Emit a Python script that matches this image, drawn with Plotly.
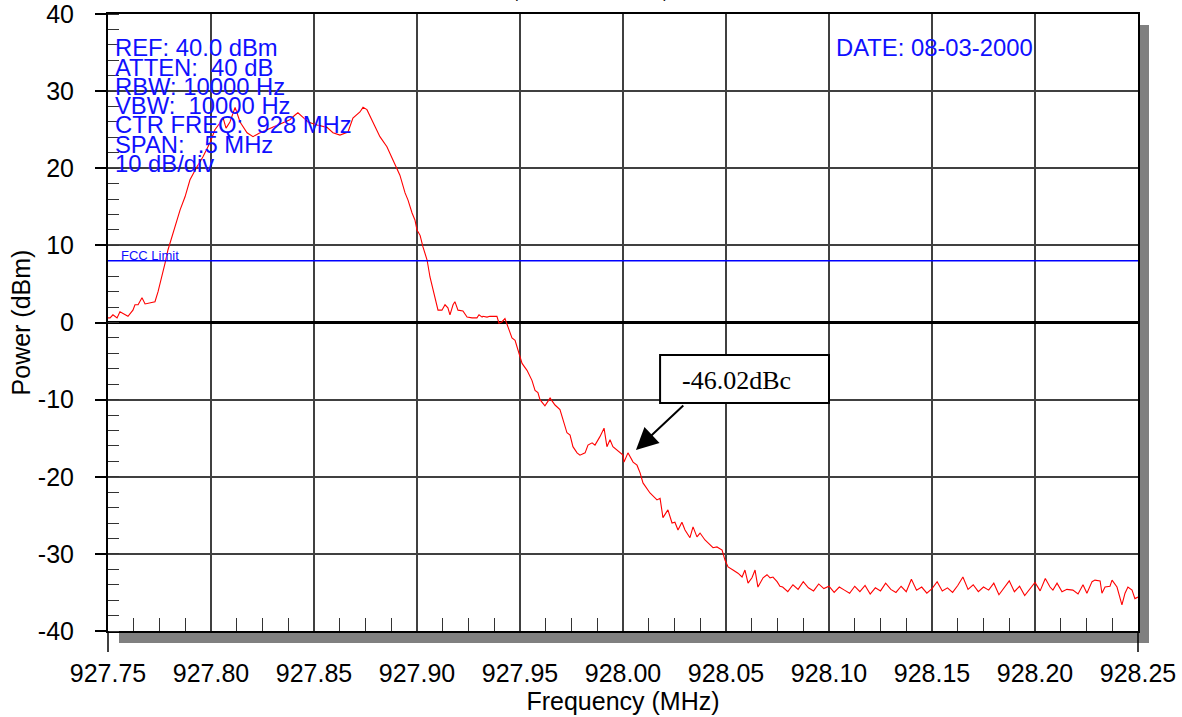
import plotly.graph_objects as go

# ---------------- data ----------------
freq_mhz = [
    927.7500, 927.7510, 927.7524, 927.7544, 927.7558, 927.7583, 927.7597, 927.7621, 927.7631, 927.7646,
    927.7665, 927.7680, 927.7694, 927.7728, 927.7743, 927.7762, 927.7777, 927.7791, 927.7811, 927.7825,
    927.7850, 927.7874, 927.7898, 927.7932, 927.7961, 927.7995, 927.8019, 927.8044, 927.8058, 927.8073,
    927.8092, 927.8117, 927.8141, 927.8175, 927.8204, 927.8238, 927.8272, 927.8301, 927.8345, 927.8383,
    927.8408, 927.8422, 927.8447, 927.8471, 927.8515, 927.8563, 927.8592, 927.8626, 927.8665, 927.8689,
    927.8723, 927.8738, 927.8757, 927.8786, 927.8820, 927.8854, 927.8883, 927.8917, 927.8942, 927.8956,
    927.8976, 927.8990, 927.9000, 927.9015, 927.9029, 927.9049, 927.9063, 927.9078, 927.9097, 927.9102,
    927.9121, 927.9136, 927.9150, 927.9160, 927.9175, 927.9184, 927.9199, 927.9223, 927.9243, 927.9267,
    927.9291, 927.9301, 927.9316, 927.9320, 927.9340, 927.9354, 927.9388, 927.9398, 927.9413, 927.9427,
    927.9442, 927.9461, 927.9476, 927.9490, 927.9510, 927.9534, 927.9558, 927.9573, 927.9587, 927.9597,
    927.9621, 927.9646, 927.9670, 927.9694, 927.9709, 927.9728, 927.9743, 927.9757, 927.9777, 927.9791,
    927.9816, 927.9830, 927.9850, 927.9864, 927.9888, 927.9908, 927.9922, 927.9937, 927.9951, 927.9985,
    928.0000, 928.0005, 928.0024, 928.0049, 928.0068, 928.0083, 928.0097, 928.0131, 928.0165, 928.0180,
    928.0194, 928.0218, 928.0238, 928.0252, 928.0267, 928.0286, 928.0301, 928.0325, 928.0340, 928.0359,
    928.0374, 928.0398, 928.0422, 928.0437, 928.0456, 928.0481, 928.0495, 928.0510, 928.0534, 928.0558,
    928.0578, 928.0592, 928.0607, 928.0626, 928.0641, 928.0655, 928.0680, 928.0699, 928.0714, 928.0728,
    928.0748, 928.0762,
    928.0775, 928.0800, 928.0825, 928.0850, 928.0875, 928.0900, 928.0925, 928.0950, 928.0975, 928.1000,
    928.1025, 928.1050, 928.1075, 928.1100, 928.1125, 928.1150, 928.1175, 928.1200, 928.1225, 928.1250,
    928.1275, 928.1300, 928.1325, 928.1350, 928.1375, 928.1400, 928.1425, 928.1450, 928.1475, 928.1500,
    928.1525, 928.1550, 928.1575, 928.1600, 928.1625, 928.1650, 928.1675, 928.1700, 928.1725, 928.1750,
    928.1775, 928.1800, 928.1825, 928.1850, 928.1875, 928.1900, 928.1925, 928.1950, 928.1975, 928.2000,
    928.2025, 928.2050,
    928.2073, 928.2087, 928.2107, 928.2131, 928.2155, 928.2184, 928.2209, 928.2233, 928.2252, 928.2277,
    928.2291, 928.2316, 928.2325, 928.2340, 928.2364, 928.2374, 928.2398, 928.2422, 928.2437, 928.2451,
    928.2471, 928.2485, 928.2500,
]
power_dbm = [
    0.6, 0.6, 1.0, 0.6, 1.4, 1.0, 0.8, 1.6, 2.3, 2.3,
    3.2, 2.4, 2.5, 2.7, 4.0, 5.9, 7.7, 9.4, 11.1, 12.4,
    14.6, 16.3, 18.5, 20.2, 21.5, 23.3, 25.0, 25.9, 26.6, 25.2,
    26.0, 27.9, 26.0, 24.6, 24.1, 24.6, 25.0, 25.3, 25.9, 26.3,
    26.9, 27.2, 26.6, 26.0, 25.6, 25.3, 24.6, 24.3, 24.7, 26.5,
    27.3, 27.9, 27.6, 25.9, 24.1, 22.8, 21.1, 19.1, 16.8, 15.9,
    14.2, 13.3, 12.0, 11.3, 9.8, 8.1, 5.9, 4.2, 2.0, 1.6,
    1.6, 2.3, 1.9, 1.0, 2.3, 2.7, 1.6, 1.5, 0.7, 0.6,
    0.6, 1.0, 0.7, 0.8, 0.7, 0.8, 0.8, -0.1, 0.1, 0.5,
    -0.6, -2.0, -2.3, -3.6, -5.3, -6.2, -7.5, -8.8, -9.1, -10.0,
    -10.8, -9.8, -10.7, -11.3, -12.6, -14.3, -14.6, -16.1, -16.9, -17.2,
    -16.9, -15.9, -15.6, -15.9, -14.8, -13.7, -16.1, -15.2, -16.1, -16.8,
    -17.2, -18.1, -16.9, -18.1, -18.5, -19.5, -20.8, -22.1, -23.0, -22.8,
    -25.3, -24.3, -26.0, -25.9, -26.9, -25.9, -26.9, -27.9, -26.5, -27.8,
    -27.3, -28.2, -28.8, -29.2, -29.1, -29.5, -30.8, -31.7, -32.1, -32.5,
    -33.0, -32.1, -33.8, -33.1, -32.1, -34.3, -33.1, -32.7, -33.1, -33.0,
    -33.6, -34.2,
    -34.3, -34.9, -34.0, -34.6, -33.6, -34.4, -34.8, -33.9, -34.5, -34.2,
    -35.0, -34.3, -34.7, -35.1, -34.2, -34.9, -34.1, -35.2, -34.4, -34.8,
    -33.8, -34.6, -35.0, -34.2, -34.9, -33.3, -34.7, -34.3, -35.1, -34.5,
    -33.6, -34.8, -34.4, -35.0, -34.1, -33.0, -34.6, -34.0, -34.9, -34.3,
    -34.7, -33.8, -35.3, -34.4, -33.5, -34.9, -34.2, -35.4, -34.6, -33.7,
    -34.8, -33.2,
    -34.3, -34.7, -33.8, -34.9, -34.6, -34.7, -35.2, -34.0, -35.1, -33.6,
    -33.4, -33.5, -35.1, -34.3, -34.2, -33.4, -34.3, -36.6, -35.1, -34.3,
    -34.7, -35.8, -35.6,
]

fcc_limit_dbm = 8
x_range = [927.75, 928.25]
y_range = [-40, 40]
x_tick_step = 0.05
y_tick_vals = [-40, -30, -20, -10, 0, 10, 20, 30, 40]
y_tick_labels = ["-40", "-30", "-20", "-10", "0", "10", "20", "30", "40"]

info_lines = [
    "REF: 40.0 dBm",
    "ATTEN:  40 dB",
    "RBW: 10000 Hz",
    "VBW:  10000 Hz",
    "CTR FREQ:  928 MHz",
    "SPAN:  .5 MHz",
    "10 dB/div",
]
date_text = "DATE: 08-03-2000"
title_text = "Modulation: FSK, Pwr: 30 dBm, Channel: 928"
callout_text = "-46.02dBc"

# ---------------- figure ----------------
SANS = "Liberation Sans, Arial, sans-serif"
SERIF = "Liberation Serif, Times New Roman, serif"
W, H = 1182, 717
ML, MR, MT, MB = 108, 44, 14, 86
PW, PH = W - ML - MR, H - MT - MB


def px_x(px):
    return (px - ML) / PW


def px_y(py):
    return (H - MB - py) / PH


fig = go.Figure()

fig.add_trace(go.Scatter(
    x=freq_mhz, y=power_dbm, mode="lines",
    line=dict(color="#ff0000", width=1.1),
    showlegend=False, hoverinfo="x+y",
))

# FCC limit line
fig.add_shape(type="line", xref="paper", x0=0, x1=1, yref="y", y0=fcc_limit_dbm, y1=fcc_limit_dbm,
              line=dict(color="#0000ff", width=1.5), layer="above")

# drop shadow (right and bottom strips)
fig.add_shape(type="rect", xref="paper", yref="paper",
              x0=1.0015, x1=px_x(1149), y0=px_y(643), y1=px_y(25),
              fillcolor="#808080", line=dict(width=0), layer="below")
fig.add_shape(type="rect", xref="paper", yref="paper",
              x0=px_x(119), x1=px_x(1149), y0=px_y(643), y1=-0.002,
              fillcolor="#808080", line=dict(width=0), layer="below")
# spine extensions below the axis
for xx in (0, 1):
    fig.add_shape(type="line", xref="paper", yref="paper", x0=xx, x1=xx,
                  y0=0, y1=px_y(652), line=dict(color="#000000", width=1.5))

# callout box + text + arrow
fig.add_shape(type="rect", xref="x", yref="y",
              x0=928.0180, x1=928.1000, y0=-10.44, y1=-4.21,
              fillcolor="#ffffff", line=dict(color="#000000", width=2), layer="above")
fig.add_annotation(x=928.0549, y=-7.46, xref="x", yref="y", text=callout_text,
                   showarrow=False, font=dict(family=SERIF, size=26, color="#000000"))
fig.add_annotation(x=928.0063, y=-16.53, xref="x", yref="y", ax=928.030, ay=-10.57,
                   axref="x", ayref="y", text="", showarrow=True,
                   arrowhead=2, arrowsize=2.2, arrowwidth=2, arrowcolor="#000000")

# instrument settings text
for i, line in enumerate(info_lines):
    fig.add_annotation(x=px_x(113.5), y=px_y(48 + 19.2 * i), xref="paper", yref="paper",
                       xanchor="left", yanchor="middle", text=line, showarrow=False,
                       font=dict(family=SANS, size=23.8, color="#1010ff"), borderpad=0)
fig.add_annotation(x=px_x(835), y=px_y(48), xref="paper", yref="paper",
                   xanchor="left", yanchor="middle", text=date_text, showarrow=False,
                   font=dict(family=SANS, size=23.8, color="#1010ff"), borderpad=0)
fig.add_annotation(x=px_x(120), y=px_y(255), xref="paper", yref="paper",
                   xanchor="left", yanchor="middle", text="FCC Limit", showarrow=False,
                   font=dict(family=SANS, size=13, color="#1010ff"), borderpad=0)
# title (mostly cut off by the top of the page)
fig.add_annotation(x=px_x(577), y=px_y(4), xref="paper", yref="paper",
                   xanchor="center", yanchor="bottom", text=title_text, showarrow=False,
                   font=dict(family=SANS, size=23.5, color="#000000"), borderpad=0)

fig.update_xaxes(
    range=x_range, tick0=x_range[0], dtick=x_tick_step, tickformat=".2f",
    showgrid=True, gridcolor="#404040", gridwidth=1.5,
    showline=True, linecolor="#000000", linewidth=2, mirror=True,
    ticks="", ticklabelstandoff=19, automargin=False, ticklabeloverflow="allow",
    minor=dict(ticks="inside", dtick=x_tick_step / 4, ticklen=13, tickcolor="#333333",
               tickwidth=1, showgrid=False),
    tickfont=dict(family=SANS, size=25, color="#000000"),
    title=dict(text="Frequency (MHz)", font=dict(family=SANS, size=25, color="#000000"), standoff=4),
    zeroline=False,
)
fig.update_yaxes(
    range=y_range, tickmode="array", tickvals=y_tick_vals, ticktext=y_tick_labels,
    automargin=False, ticklabeloverflow="allow",
    showgrid=True, gridcolor="#404040", gridwidth=1.5,
    showline=True, linecolor="#000000", linewidth=2, mirror=True,
    ticks="outside", ticklen=11, tickcolor="#000000", tickwidth=1.5, ticklabelstandoff=16,
    minor=dict(ticks="inside", dtick=2, ticklen=11, tickcolor="#333333", tickwidth=1, showgrid=False),
    zeroline=True, zerolinecolor="#000000", zerolinewidth=3,
    tickfont=dict(family=SANS, size=25, color="#000000"),
    title=dict(text="Power (dBm)", font=dict(family=SANS, size=25, color="#000000"), standoff=0),
)

fig.update_layout(
    width=W, height=H,
    margin=dict(l=ML, r=MR, t=MT, b=MB, pad=0, autoexpand=False),
    paper_bgcolor="#ffffff", plot_bgcolor="#ffffff",
    showlegend=False,
)

fig.write_html("out.html", config={"displayModeBar": False},
               post_script="document.body.style.margin='0';document.body.style.overflow='hidden';")
